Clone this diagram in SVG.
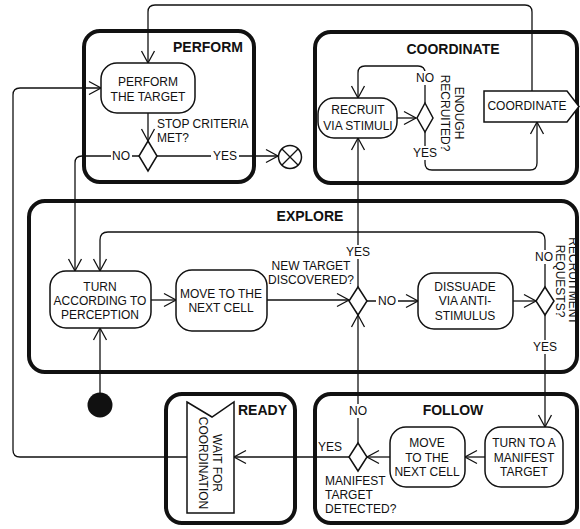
<svg xmlns="http://www.w3.org/2000/svg" width="580" height="529" viewBox="0 0 580 529">
<style>
.box{fill:none;stroke:#111;stroke-width:4}
.c{fill:none;stroke:#111;stroke-width:1.3;marker-end:url(#a)}
.n{fill:#fff;stroke:#111;stroke-width:1.5}
.t{font-family:"Liberation Sans",Arial,sans-serif;font-size:12px;fill:#111;text-anchor:middle}
.h{font-family:"Liberation Sans",Arial,sans-serif;font-size:14px;font-weight:bold;fill:#111;text-anchor:middle}
.s{text-anchor:start}
.bg{fill:#fff}
</style>
<defs>
<marker id="a" viewBox="0 0 12 14" refX="12" refY="7" markerWidth="12" markerHeight="14" markerUnits="userSpaceOnUse" orient="auto" overflow="visible">
<path d="M0,0.5 L12,7 L0,13.5" fill="none" stroke="#111" stroke-width="1.3"/>
</marker>
</defs>
<rect width="580" height="529" fill="#fff"/>

<g id="containers">
<g id="perform-box"><rect class="box" x="84" y="31" width="170" height="151" rx="16"/><text class="h" x="208" y="52">PERFORM</text></g>
<g id="coordinate-box"><rect class="box" x="315" y="32" width="262" height="151" rx="16"/><text class="h" x="453" y="54">COORDINATE</text></g>
<g id="explore-box"><rect class="box" x="29" y="201" width="548" height="171" rx="16"/><text class="h" x="310" y="221">EXPLORE</text></g>
<g id="ready-box"><rect class="box" x="166" y="394" width="129" height="129" rx="16"/><text class="h s" x="238" y="415">READY</text></g>
<g id="follow-box"><rect class="box" x="315" y="394" width="262" height="129" rx="16"/><text class="h" x="453" y="415">FOLLOW</text></g>
</g>

<g id="connectors">
<path class="c" d="M532,91 V12 Q532,5 525,5 H155 Q148,5 148,12 V63"/>
<path class="c" d="M187,457 H20 Q13,457 13,450 V95 Q13,88 20,88 H101"/>
<path class="c" d="M148,113 V141"/>
<path class="c" d="M139,156 H82 Q75,156 75,163 V271"/>
<path class="c" d="M157,156 H278"/>
<path class="c" d="M151,300 H176"/>
<path class="c" d="M267,300 H349"/>
<path class="c" d="M358,287 V138"/>
<path class="c" d="M367,301 H418"/>
<path class="c" d="M513,301 H536"/>
<path class="c" d="M545,287 V240 Q545,232 537,232 H108 Q100,232 100,240 V271"/>
<path class="c" d="M545,315 V427"/>
<path class="c" d="M100,393 V328"/>
<path class="c" d="M485,457 H465"/>
<path class="c" d="M390,457 H367"/>
<path class="c" d="M358,443 V315"/>
<path class="c" d="M349,457 H234"/>
<path class="c" d="M397,118 H416"/>
<path class="c" d="M425,103 V73 Q425,66 418,66 H365 Q358,66 358,73 V98"/>
<path class="c" d="M425,132 V163 Q425,170 432,170 H530 Q537,170 537,163 V122"/>
<rect class="bg" x="111" y="149" width="21" height="14"/><text class="t" x="121" y="160">NO</text>
<rect class="bg" x="211" y="149" width="28" height="14"/><text class="t" x="225" y="160">YES</text>
<rect class="bg" x="345" y="245" width="26" height="14"/><text class="t" x="358" y="256">YES</text>
<rect class="bg" x="376" y="294" width="22" height="14"/><text class="t" x="387" y="305">NO</text>
<rect class="bg" x="533" y="250" width="22" height="14"/><text class="t" x="544" y="261">NO</text>
<rect class="bg" x="532" y="340" width="26" height="14"/><text class="t" x="545" y="351">YES</text>
<rect class="bg" x="347" y="404" width="22" height="14"/><text class="t" x="358" y="415">NO</text>
<rect class="bg" x="414" y="71" width="22" height="14"/><text class="t" x="425" y="82">NO</text>
<rect class="bg" x="412" y="146" width="26" height="14"/><text class="t" x="425" y="157">YES</text>
<text class="t" x="330" y="451">YES</text>
<text class="t s" x="157" y="128">STOP CRITERIA</text>
<text class="t s" x="157" y="142">MET?</text>
<text class="t" x="311" y="270">NEW TARGET</text>
<text class="t" x="311" y="284">DISCOVERED?</text>
<text class="t s" x="325" y="485">MANIFEST</text>
<text class="t s" x="325" y="499">TARGET</text>
<text class="t s" x="325" y="513">DETECTED?</text>
<g transform="translate(452,113) rotate(90)"><text class="t" x="0" y="-2.7">ENOUGH</text><text class="t" x="0" y="11.3">RECRUITED?</text></g>
<g transform="translate(566,281) rotate(90)"><text class="t" x="0" y="-3">RECRUITMENT</text><text class="t" x="0" y="10">REQUESTS?</text></g>
</g>

<g id="perform-target"><rect class="n" x="101" y="63" width="94" height="50" rx="16"/><text class="t" x="148" y="86">PERFORM</text><text class="t" x="148" y="101">THE TARGET</text></g>
<g id="stop-decision"><polygon class="n" points="148,141 157,156 148,171 139,156"/></g>
<g id="final"><circle class="n" cx="290" cy="157" r="11.5"/><path d="M282,149 L298,165 M298,149 L282,165" stroke="#111" stroke-width="1.3"/></g>
<g id="recruit"><rect class="n" x="318" y="98" width="79" height="40" rx="16"/><text class="t" x="358" y="114">RECRUIT</text><text class="t" x="358" y="130">VIA STIMULI</text></g>
<g id="enough-decision"><polygon class="n" points="425,103 433,118 425,132 417,118"/></g>
<g id="coordinate"><polygon class="n" points="484,91 567,91 579,106.5 567,122 484,122"/><text class="t" x="527" y="110">COORDINATE</text></g>
<g id="turn-perception"><rect class="n" x="50" y="271" width="101" height="57" rx="16"/><text class="t" x="100" y="291">TURN</text><text class="t" x="100" y="305">ACCORDING TO</text><text class="t" x="100" y="319">PERCEPTION</text></g>
<g id="move-explore"><rect class="n" x="176" y="270" width="91" height="61" rx="16"/><text class="t" x="221" y="298">MOVE TO THE</text><text class="t" x="221" y="312">NEXT CELL</text></g>
<g id="target-decision"><polygon class="n" points="358,287 367,301 358,315 349,301"/></g>
<g id="dissuade"><rect class="n" x="418" y="273" width="95" height="56" rx="16"/><text class="t" x="465" y="291">DISSUADE</text><text class="t" x="465" y="305">VIA ANTI-</text><text class="t" x="465" y="320">STIMULUS</text></g>
<g id="recruitment-decision"><polygon class="n" points="545,287 554,301 545,315 536,301"/></g>
<g id="initial"><circle cx="100" cy="405" r="12.5" fill="#111"/></g>
<g id="turn-manifest"><rect class="n" x="485" y="427" width="78" height="60" rx="16"/><text class="t" x="524" y="447">TURN TO A</text><text class="t" x="524" y="462">MANIFEST</text><text class="t" x="524" y="476">TARGET</text></g>
<g id="move-follow"><rect class="n" x="390" y="427" width="75" height="60" rx="16"/><text class="t" x="427" y="447">MOVE</text><text class="t" x="427" y="462">TO THE</text><text class="t" x="427" y="476">NEXT CELL</text></g>
<g id="manifest-decision"><polygon class="n" points="358,443 367,457 358,471 349,457"/></g>
<g id="wait"><polygon class="n" points="187,402 212,417 234,402 234,513 187,513"/><g transform="translate(210,463) rotate(90)"><text class="t" x="0" y="-2.7">WAIT FOR</text><text class="t" x="0" y="11.3">COORDINATION</text></g></g>
</svg>
